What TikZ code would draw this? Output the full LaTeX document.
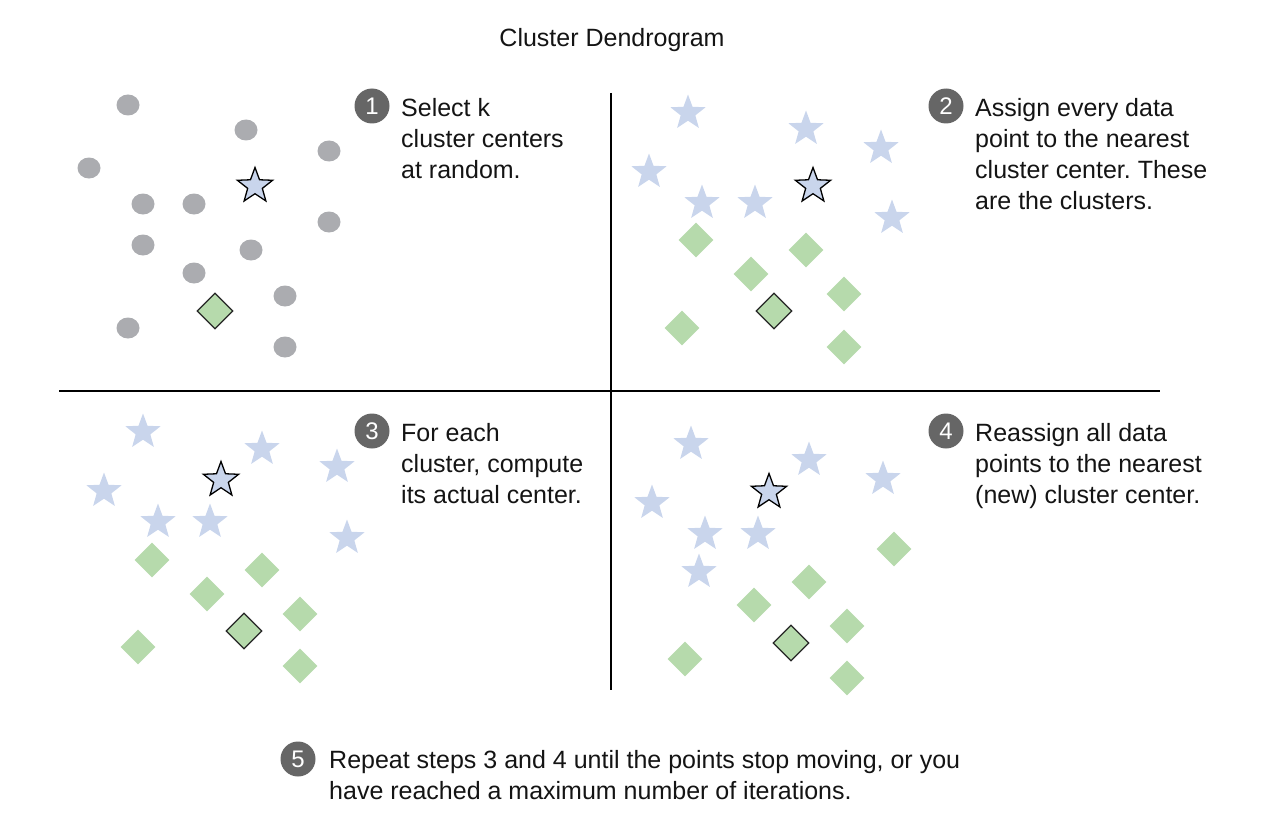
\documentclass[tikz,border=0pt]{standalone}
\usepackage{fontspec}
\setmainfont{Liberation Sans}
\usetikzlibrary{shapes.geometric}
\definecolor{dotgray}{RGB}{171,172,176}
\definecolor{starblue}{RGB}{201,213,236}
\definecolor{diagreen}{RGB}{182,218,172}
\definecolor{numgray}{RGB}{102,102,102}
\definecolor{txt}{RGB}{20,20,20}
\frenchspacing
\begin{document}
\begin{tikzpicture}[x=1pt,y=-1pt,
  gdot/.style={ellipse,fill=dotgray,minimum width=23pt,minimum height=21pt,inner sep=0},
  bstar/.style={star,star points=5,star point ratio=2.4,fill=starblue,minimum size=37pt,inner sep=0},
  cstar/.style={bstar,draw=black,line width=1.3pt,minimum size=37pt},
  gdia/.style={diamond,fill=diagreen,minimum size=35pt,inner sep=0},
  cdia/.style={gdia,draw=black!85,line width=1.3pt,minimum size=36pt},
  numc/.style={circle,fill=numgray,minimum size=35pt,inner sep=0,text=white,font=\fontsize{24}{24}\selectfont},
  steptext/.style={anchor=north west,inner sep=0,align=left,text=txt,font=\fontsize{25}{31}\selectfont},
  divider/.style={line width=1.2pt,black}]
\useasboundingbox (0,0) rectangle (1274,832);
\node[anchor=base,inner sep=0,text=txt,font=\fontsize{25}{28}\selectfont] (title) at (612,47) {Cluster Dendrogram};
% dividers
\coordinate (vt) at (611,93); \coordinate (vb) at (611,690);
\coordinate (hl) at (59,391); \coordinate (hr) at (1160,391);
\draw[divider] (vt) -- (vb);
\draw[divider] (hl) -- (hr);
% panel 1
\foreach \x/\y [count=\i] in {128/105,246/130,329/151,89/168,143/204,194/204,329/222,143/245,251/250,194/273,285/296,128/328,285/347}
  \node[gdot] (p1d\i) at (\x,\y) {};
\node[cstar] (p1s) at (255,186) {};
\node[cdia] (p1g) at (215,311) {};
% panel 2
\foreach \x/\y [count=\i] in {688/113,806/129,881/148,649/172,702/203,755/203,892/218}
  \node[bstar] (p2s\i) at (\x,\y) {};
\foreach \x/\y [count=\i] in {696/240,806/250,751/274,844/294,682/328,844/347}
  \node[gdia] (p2g\i) at (\x,\y) {};
\node[cstar] (p2s) at (813,186) {};
\node[cdia] (p2g) at (774,311) {};
% panel 3
\foreach \x/\y [count=\i] in {143/432,262/449,337/467,104/491,158/522,210/522,347/538}
  \node[bstar] (p3s\i) at (\x,\y) {};
\foreach \x/\y [count=\i] in {152/560,262/570,207/594,300/614,138/647,300/666}
  \node[gdia] (p3g\i) at (\x,\y) {};
\node[cstar] (p3s) at (221,480) {};
\node[cdia] (p3g) at (244,631) {};
% panel 4
\foreach \x/\y [count=\i] in {691/444,809/460,883/479,652/503,705/534,758/534,699/572}
  \node[bstar] (p4s\i) at (\x,\y) {};
\foreach \x/\y [count=\i] in {894/549,809/582,754/605,847/626,685/659,847/678}
  \node[gdia] (p4g\i) at (\x,\y) {};
\node[cstar] (p4s) at (769,492) {};
\node[cdia] (p4g) at (791,643) {};
% step numbers and texts
\node[numc] (n1) at (372,106) {1};
\node[steptext] (t1) at (401,98) {Select k\\cluster centers\\at random.};
\node[numc] (n2) at (946,106) {2};
\node[steptext] (t2) at (975,98) {Assign every data\\point to the nearest\\cluster center. These\\are the clusters.};
\node[numc] (n3) at (372,431) {3};
\node[steptext] (t3) at (401,423) {For each\\cluster, compute\\its actual center.};
\node[numc] (n4) at (946,431) {4};
\node[steptext] (t4) at (975,423) {Reassign all data\\points to the nearest\\(new) cluster center.};
\node[numc] (n5) at (298,759) {5};
\node[steptext] (t5) at (329,750) {Repeat steps 3 and 4 until the points stop moving, or you\\have reached a maximum number of iterations.};
\end{tikzpicture}
\end{document}
